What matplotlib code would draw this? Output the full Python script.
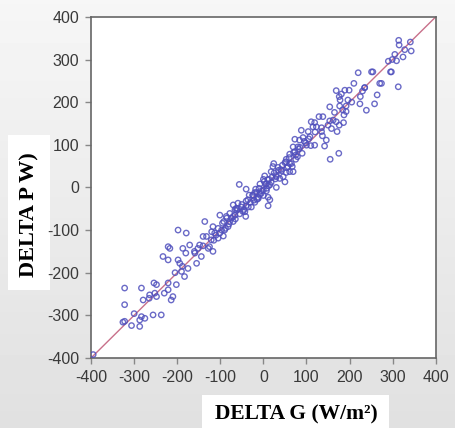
import matplotlib
matplotlib.use("Agg")
import matplotlib.pyplot as plt
import numpy as np
from matplotlib.patches import Rectangle

plt.rcParams['axes.unicode_minus'] = False

# DELTA G (W/m2) vs DELTA P (W)
delta_g = [
    314, 315, 341, 343, 328, 324, 309, 299, 313, 295, 297, 254, 251, 220, 210,
    270, 274, 235, 235, 225, 224, 239, 258, 264, 199, 189, 181, 169, 178, 176,
    196, 192, 192, 184, 187, 177, 169, 162, 186, 176, 171, 154, 154, 158, 155,
    175, 142, 146, 137, 135, 129, 138, 119, 115, 111, 123, 119, 100, 108, 104,
    92, 88, 84, 80, 73, 69, 75, 79, 73, 61, 53, 52, 61, 57, 67, 50, 53, 42,
    34, 24, 22, 18, 30, 38, 46, 69, 61, 30, 7, 13, 0, 3, -8, -4, -16, -12,
    -24, -20, -28, 0, 11, 11, 15, 7, -36, -40, -33, -40, -43, -41, -51, -56,
    -59, -63, -66, -70, -66, -78, -74, -86, -92, -78, -82, -70, -97, -101,
    -93, -101, -105, -113, -117, -121, -125, -128, -117, -132, -136, -140,
    -148, -152, -140, -144, -155, -159, -171, -179, -180, -187, -194, -188,
    -190, -183, -198, -198, -202, -210, -214, -217, -221, -221, -221, -221,
    -233, -237, -248, -248, -252, -264, -256, -254, -283, -279, -283, -287,
    -287, -275, -306, -322, -326, -322, -322, -395,
    -30, -25, -20, -15, -10, -5, 5, 10, 15, 20, 25, 30, 35, 40, -40, -45,
    -50, -55, -60, -65, -70, -80, -85, -90, -95, -110, -115, -120, 50, 55,
    60, 65, 70, 75, 85, 90, 95, 105, 110, 120, 0, 2, -8, 12, -18, 8,
    -35, -22, -12, 18, 28, 44, -48, -62, -88, -105, 82, 98, 135, 150,
    165, 205, 230, 290, 305, -160, -175, -205, -230, -265, -300,
]
delta_p = [
    345, 334, 341, 320, 323, 306, 297, 300, 236, 271, 271, 271, 271, 269, 244,
    244, 244, 234, 234, 213, 196, 181, 196, 217, 228, 228, 219, 227, 205, 213,
    205, 191, 178, 182, 170, 191, 154, 158, 152, 146, 131, 189, 156, 138, 66,
    80, 97, 111, 121, 131, 166, 166, 152, 142, 154, 142, 99, 99, 119, 131,
    117, 134, 111, 95, 113, 95, 76, 72, 84, 78, 66, 60, 56, 49, 49, 13, 35, 39,
    47, 56, 49, 37, 25, 21, 25, 37, 37, 0, 8, 19, 19, 27, 8, -8, -12, -23,
    -19, -35, -46, -19, -23, -43, -29, -8, -29, -4, -18, -43, -57, -68, -46, 7,
    -37, -49, -65, -41, -52, -61, -72, -68, -80, -80, -92, -80, -100, -65,
    -114, -107, -119, -107, -92, -123, -139, -143, -150, -115, -80, -115,
    -135, -143, -137, -162, -178, -154, -135, -107, -154, -143, -178, -185,
    -197, -209, -100, -170, -228, -256, -264, -143, -139, -170, -224, -240,
    -162, -299, -228, -256, -248, -252, -299, -224, -236, -264, -303, -311,
    -326, -307, -324, -314, -316, -275, -236, -392,
    -35, -18, -12, -28, -2, -14, 8, 18, 6, 24, 34, 28, 40, 42, -32, -52,
    -40, -62, -50, -74, -68, -86, -72, -100, -84, -112, -124, -104, 58, 46,
    70, 56, 82, 66, 94, 80, 108, 114, 98, 130, -6, 14, -16, 4, -4, -2,
    -46, -30, -26, 12, 20, 52, -56, -54, -96, -96, 90, 104, 140, 146,
    176, 200, 226, 296, 312, -150, -190, -200, -248, -260, -296,
]

x_ticks = [-400, -300, -200, -100, 0, 100, 200, 300, 400]
y_ticks = [-400, -300, -200, -100, 0, 100, 200, 300, 400]
fit_line = [-400, 400]

fig = plt.figure(figsize=(4.56, 4.28), dpi=100)

# soft grey gradient behind everything (the source is a screenshot)
bg = fig.add_axes([0, 0, 1, 1], zorder=-10)
bg.imshow(np.linspace(0.965, 0.88, 100).reshape(-1, 1), cmap='gray',
          vmin=0, vmax=1, aspect='auto', extent=[0, 1, 0, 1])
bg.axis('off')

ax = fig.add_axes([0.1996, 0.1636, 0.756, 0.797])
ax.set_facecolor('white')

ax.plot(fit_line, fit_line, color='#c8708a', lw=1.0, zorder=2)
ax.scatter(delta_g, delta_p, s=15, facecolors='none', edgecolors='#5050bd',
           linewidths=1.0, alpha=0.85, zorder=3)

ax.set_xlim(-400, 400)
ax.set_ylim(-400, 400)
ax.set_xticks(x_ticks)
ax.set_yticks(y_ticks)
ax.tick_params(direction='out', length=4.5, width=1, color='#888888',
               labelsize=11.5, labelcolor='#3a3a3a', pad=4)
for lbl in ax.get_xticklabels() + ax.get_yticklabels():
    lbl.set_family('Liberation Sans')
for sp in ax.spines.values():
    sp.set_color('#666666')
    sp.set_linewidth(1.2)

# white label boxes, as in the source figure
fig.patches.append(Rectangle((8 / 456, 1 - 290 / 428), 42 / 456, 155 / 428,
                             transform=fig.transFigure, facecolor='white',
                             edgecolor='none', zorder=-5))
fig.patches.append(Rectangle((202 / 456, 0), 187 / 456, 33 / 428,
                             transform=fig.transFigure, facecolor='white',
                             edgecolor='none', zorder=-5))
fig.text(29 / 456, 1 - 215 / 428, 'DELTA P W)', rotation=90, ha='center',
         va='center', fontsize=16, fontweight='bold', family='Liberation Serif')
fig.text(296 / 456, 1 - 414 / 428, 'DELTA G (W/m²)', ha='center', va='center',
         fontsize=15.5, fontweight='bold', family='Liberation Serif')

fig.savefig('out.png', dpi=100)
